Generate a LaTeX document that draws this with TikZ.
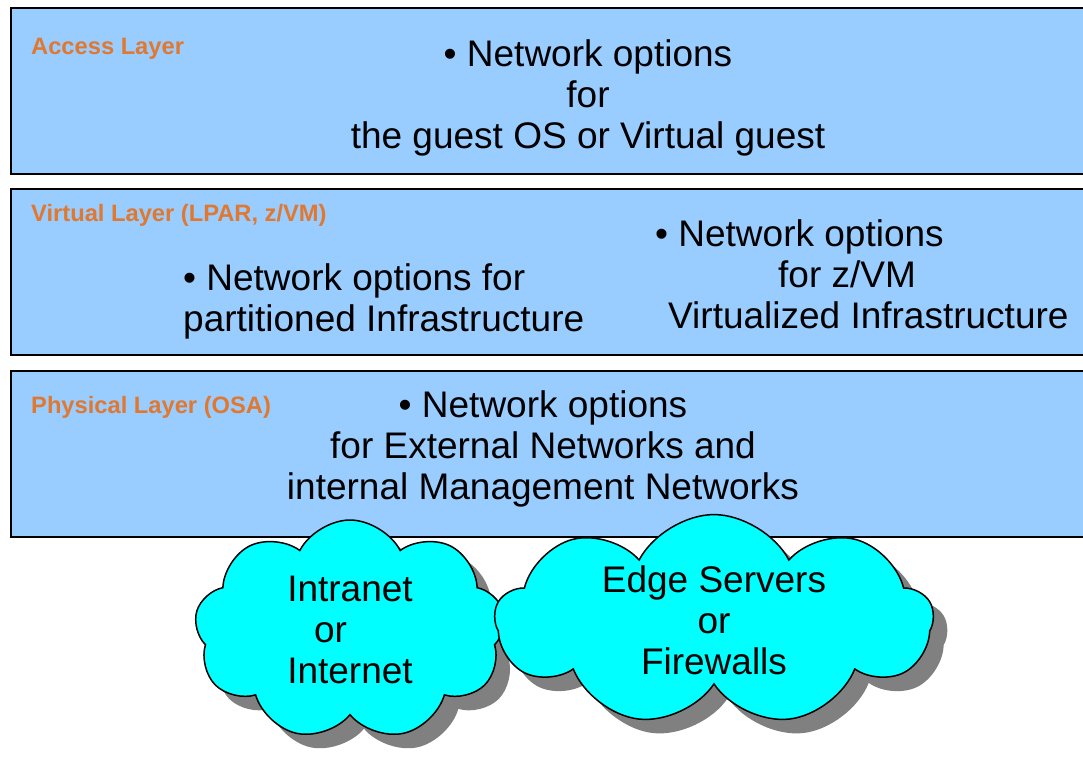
\documentclass[tikz,border=0pt]{standalone}
\usepackage{fontspec}
\setmainfont{Liberation Sans}
\usetikzlibrary{shapes.symbols}
\usetikzlibrary{shadows}
\definecolor{layerblue}{HTML}{99CCFF}
\definecolor{cloudcyan}{HTML}{00FFFF}
\definecolor{labelorange}{HTML}{E07830}
\tikzset{layer/.style={draw,line width=2.2pt,fill=layerblue,
                       minimum width=1084pt,minimum height=166pt,inner sep=0pt}}
\tikzset{layername/.style={anchor=base west,inner sep=0pt,text=labelorange,
                           font=\bfseries\fontsize{23.7}{28}\selectfont}}
\tikzset{options/.style={inner sep=0pt,align=center,
                         font=\fontsize{37}{41}\selectfont}}
\tikzset{netcloud/.style={options,cloud,cloud puffs=9,cloud puff arc=125,
                          cloud ignores aspect,
                          draw,line width=1.5pt,fill=cloudcyan,
                          drop shadow={shadow xshift=14pt,shadow yshift=-14pt,
                                       fill=gray,opacity=1}}}

\begin{document}
\begin{tikzpicture}[x=1pt,y=-1pt]
    \useasboundingbox (0,0) rectangle (1083,756);
    \foreach \name/\y in {access/91,virtual/272,physical/454}{%
          \node[layer] (\name) at (553,\y) {};
        }
    % Labels
    \node[layername] (accessname) at (31,54) {Access Layer};
    \node[layername] (virtualname) at (31,221) {Virtual Layer (LPAR, z/VM)};
    \node[layername] (physicalname) at (31,413) {Physical Layer (OSA)};
    % Network options (base = last line)
    \node[options,anchor=base] (guest) at (588,148)
          {• Network options\\for\\the guest OS or Virtual guest};
    \node[options,anchor=base west,align=left] (lpar) at (183,331)
          {• Network options for\\partitioned Infrastructure};
    \node[options,anchor=base west,align=left] (zvm) at (655,328)
          {• Network options\\\hspace*{123pt}for z/VM\\\hspace*{13pt}Virtualized Infrastructure};
    \node[options,anchor=base] (osa) at (543,499)
          {• Network options\\for External Networks and\\internal Management Networks};
    % Clouds
    \node[netcloud,minimum width=311pt,minimum height=220pt] (intranet) at (350,630)
          {Intranet\\\makebox[72pt][l]{or}\\Internet};
    \node[netcloud,minimum width=438pt,minimum height=196pt] (edge) at (714,620)
          {Edge Servers\\or\\Firewalls};
\end{tikzpicture}
\end{document}
